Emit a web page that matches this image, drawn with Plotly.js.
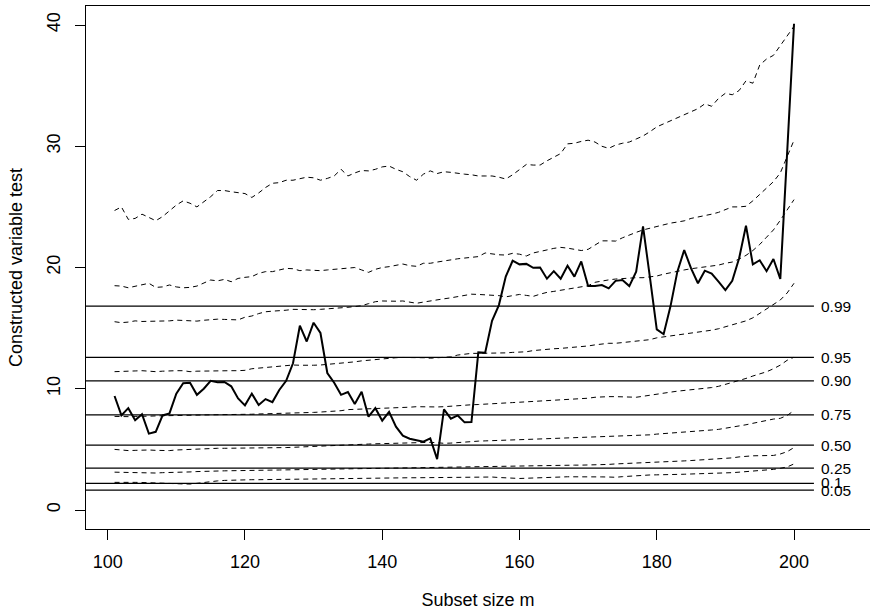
<!DOCTYPE html>
<html>
<head>
<meta charset="utf-8">
<script src="https://cdn.plot.ly/plotly-3.0.1.min.js"></script>
<style>html,body{margin:0;padding:0;background:#fff;}</style>
</head>
<body>
<div id="chart" style="width:870px;height:610px;"></div>
<script>
// Subset size m
const subsetSize = [101,102,103,104,105,106,107,108,109,110,111,112,113,114,115,116,117,118,119,120,
  121,122,123,124,125,126,127,128,129,130,131,132,133,134,135,136,137,138,139,140,
  141,142,143,144,145,146,147,148,149,150,151,152,153,154,155,156,157,158,159,160,
  161,162,163,164,165,166,167,168,169,170,171,172,173,174,175,176,177,178,179,180,
  181,182,183,184,185,186,187,188,189,190,191,192,193,194,195,196,197,198,199,200];

// Observed constructed variable test
const observed = [9.4,7.8,8.4,7.4,7.9,6.3,6.45,7.8,7.97,9.6,10.45,10.5,9.5,10.0,10.66,10.53,10.56,10.2,9.2,8.63,
  9.6,8.66,9.15,8.9,9.9,10.66,12.1,15.2,13.9,15.45,14.6,11.3,10.5,9.5,9.73,8.74,9.76,7.7,8.4,7.37,
  8.1,6.87,6.13,5.88,5.75,5.63,5.9,4.2,8.3,7.53,7.8,7.23,7.26,13.0,12.98,15.6,16.9,19.25,20.56,20.26,
  20.3,19.98,20.0,19.08,19.7,19.08,20.15,19.25,20.5,18.47,18.47,18.56,18.28,18.9,18.97,18.47,19.66,23.4,19.2,14.9,
  14.5,16.8,19.66,21.44,19.93,18.7,19.74,19.5,18.83,18.14,18.9,20.76,23.45,20.26,20.6,19.7,20.7,19.05,29.5,40.1];

// Simulation envelopes (dashed), from highest to lowest
const env99 = [24.7,25.0,23.97,24.05,24.4,24.1,23.86,24.2,24.66,25.15,25.5,25.3,25.0,25.4,25.84,26.35,26.35,26.25,26.2,26.1,
  25.78,26.15,26.6,26.95,27.0,27.2,27.2,27.3,27.45,27.4,27.2,27.35,27.55,28.1,27.55,27.8,28.0,27.97,28.1,28.3,
  28.37,28.1,27.9,27.5,27.2,27.7,27.97,27.75,27.9,27.85,27.75,27.7,27.65,27.55,27.55,27.55,27.45,27.3,27.65,28.04,
  28.5,28.45,28.45,28.8,29.1,29.4,30.2,30.25,30.4,30.5,30.35,30.0,29.83,30.1,30.25,30.35,30.6,30.85,31.2,31.6,
  31.85,32.1,32.3,32.55,32.85,33.1,33.5,33.3,33.95,34.37,34.25,34.6,35.4,35.2,36.7,37.2,37.5,38.3,39.0,39.9];
const env95 = [18.5,18.47,18.33,18.47,18.6,18.7,18.36,18.4,18.56,18.4,18.33,18.36,18.47,18.7,18.97,18.9,19.02,18.83,19.1,19.19,
  19.25,19.52,19.66,19.66,19.8,19.93,19.9,19.74,19.8,19.74,19.74,19.8,19.82,19.9,19.95,20.0,19.8,19.6,19.85,20.0,
  20.07,20.15,20.29,20.15,20.1,20.35,20.35,20.45,20.56,20.62,20.72,20.78,20.85,20.9,21.2,21.12,21.05,21.03,21.17,21.1,
  20.95,21.2,21.35,21.45,21.58,21.66,21.6,21.5,21.4,21.5,21.85,22.2,22.2,22.18,22.45,22.7,22.9,23.1,23.25,23.4,
  23.55,23.66,23.75,23.85,24.05,24.15,24.25,24.4,24.55,24.75,25.0,25.0,25.05,25.5,26.0,26.55,27.08,27.8,29.1,30.5];
const env90 = [15.53,15.45,15.5,15.6,15.55,15.55,15.58,15.6,15.6,15.66,15.62,15.6,15.58,15.65,15.72,15.74,15.72,15.7,15.68,15.9,
  16.0,16.2,16.35,16.4,16.42,16.48,16.55,16.52,16.5,16.52,16.55,16.58,16.64,16.68,16.72,16.78,16.85,17.02,17.18,17.24,
  17.2,17.22,17.24,17.15,17.05,17.15,17.22,17.32,17.42,17.5,17.6,17.7,17.8,17.78,17.75,17.75,17.68,17.58,17.65,17.78,
  17.7,17.62,17.8,17.95,18.03,18.12,18.2,18.3,18.36,18.5,18.78,18.9,18.98,19.05,19.1,19.14,19.16,19.16,19.2,19.3,
  19.45,19.58,19.7,19.8,19.9,19.98,20.05,20.12,20.2,20.35,20.45,20.7,21.0,21.4,21.9,22.5,23.1,23.9,24.7,25.6];
const env75 = [11.41,11.45,11.49,11.47,11.49,11.45,11.41,11.45,11.49,11.49,11.49,11.41,11.45,11.47,11.49,11.49,11.49,11.49,11.49,11.52,
  11.65,11.7,11.72,11.8,11.88,11.92,11.96,11.94,11.92,11.94,11.96,12.0,12.04,12.12,12.18,12.22,12.3,12.36,12.4,12.45,
  12.5,12.56,12.58,12.59,12.58,12.56,12.52,12.55,12.59,12.63,12.78,12.88,12.92,12.92,12.92,12.92,12.92,12.96,13.0,13.02,
  13.05,13.15,13.22,13.27,13.3,13.33,13.37,13.42,13.47,13.53,13.62,13.7,13.75,13.75,13.8,13.85,13.9,13.97,14.05,14.2,
  14.28,14.33,14.4,14.47,14.56,14.67,14.75,14.83,14.95,15.1,15.25,15.42,15.6,15.85,16.2,16.55,16.95,17.32,17.9,18.7];
const env50 = [7.72,7.68,7.7,7.72,7.7,7.74,7.76,7.78,7.8,7.82,7.82,7.83,7.84,7.84,7.85,7.85,7.84,7.85,7.86,7.88,
  7.9,7.92,7.93,7.95,7.97,7.98,8.0,8.02,8.04,8.05,8.08,8.1,8.15,8.19,8.28,8.3,8.3,8.3,8.32,8.35,
  8.38,8.42,8.45,8.48,8.52,8.5,8.48,8.5,8.52,8.57,8.6,8.64,8.68,8.7,8.72,8.75,8.8,8.83,8.86,8.89,
  8.92,8.95,9.0,9.05,9.07,9.1,9.14,9.18,9.2,9.22,9.3,9.35,9.35,9.35,9.33,9.3,9.3,9.38,9.48,9.55,
  9.62,9.72,9.8,9.85,9.9,9.95,10.02,10.1,10.2,10.35,10.5,10.68,10.85,11.05,11.22,11.4,11.65,11.95,12.35,12.6];
const env25 = [5.0,4.95,4.9,4.92,4.95,4.95,4.92,4.88,4.9,4.95,4.98,5.0,5.03,5.06,5.09,5.09,5.09,5.09,5.09,5.09,
  5.09,5.09,5.1,5.12,5.12,5.15,5.17,5.2,5.22,5.25,5.28,5.29,5.3,5.32,5.36,5.4,5.42,5.44,5.46,5.48,
  5.5,5.5,5.52,5.54,5.56,5.57,5.58,5.55,5.5,5.52,5.57,5.62,5.65,5.68,5.7,5.71,5.72,5.74,5.76,5.78,
  5.82,5.84,5.86,5.88,5.89,5.91,5.93,5.95,5.97,6.0,6.02,6.04,6.06,6.08,6.1,6.1,6.12,6.15,6.2,6.26,
  6.3,6.33,6.35,6.38,6.42,6.48,6.55,6.6,6.65,6.73,6.82,6.92,7.03,7.15,7.28,7.42,7.5,7.56,7.8,8.2];
const env10 = [3.12,3.1,3.08,3.06,3.04,3.02,3.05,3.08,3.08,3.08,3.1,3.14,3.17,3.2,3.22,3.22,3.23,3.24,3.24,3.24,
  3.26,3.27,3.28,3.29,3.3,3.31,3.32,3.33,3.35,3.36,3.36,3.36,3.38,3.4,3.42,3.44,3.43,3.44,3.45,3.46,
  3.47,3.47,3.48,3.49,3.5,3.5,3.51,3.52,3.53,3.54,3.56,3.57,3.57,3.57,3.57,3.58,3.59,3.6,3.62,3.64,
  3.66,3.67,3.68,3.69,3.7,3.7,3.7,3.7,3.7,3.7,3.72,3.74,3.76,3.8,3.82,3.85,3.87,3.9,3.92,3.94,
  3.96,3.99,4.03,4.05,4.08,4.11,4.14,4.17,4.2,4.25,4.3,4.38,4.45,4.47,4.48,4.5,4.5,4.62,4.81,5.15];
const env05 = [2.28,2.3,2.29,2.28,2.27,2.26,2.26,2.24,2.2,2.17,2.15,2.14,2.2,2.28,2.35,2.4,2.44,2.47,2.48,2.49,
  2.5,2.5,2.51,2.52,2.52,2.53,2.53,2.54,2.55,2.56,2.56,2.57,2.58,2.58,2.59,2.6,2.61,2.62,2.62,2.63,
  2.64,2.64,2.65,2.66,2.66,2.67,2.68,2.69,2.7,2.71,2.72,2.73,2.74,2.75,2.76,2.72,2.68,2.64,2.6,2.6,
  2.62,2.65,2.68,2.7,2.7,2.72,2.74,2.75,2.75,2.75,2.74,2.73,2.72,2.7,2.75,2.8,2.84,2.88,2.89,2.9,
  2.9,2.91,2.93,2.95,2.97,2.98,3.0,3.02,3.03,3.05,3.08,3.12,3.16,3.2,3.25,3.3,3.35,3.44,3.55,3.8];

// Asymptotic reference quantiles (horizontal lines) and their labels
const quantileLabels = ["0.99","0.95","0.90","0.75","0.50","0.25","0.1","0.05"];
const quantileValues = [16.812,12.592,10.645,7.841,5.348,3.455,2.204,1.635];

const xRange = [96.84, 211.07];
const yRange = [-1.567, 41.57];
const refLineEnd = 202.9;
const labelX = 203.6;

const FONT = "Liberation Sans, Arial, Helvetica, sans-serif";

const envelopes = [env99, env95, env90, env75, env50, env25, env10, env05];
const traces = envelopes.map(function (e) {
  return {x: subsetSize, y: e, type: "scatter", mode: "lines",
    line: {color: "#000", width: 1, dash: "5px,4px"}, hoverinfo: "skip", showlegend: false};
});
traces.push({x: subsetSize, y: observed, type: "scatter", mode: "lines",
  line: {color: "#000", width: 2}, showlegend: false});

const shapes = quantileValues.map(function (q) {
  return {type: "line", xref: "x", yref: "y", x0: xRange[0], x1: refLineEnd, y0: q, y1: q,
    line: {color: "#000", width: 1.2}, layer: "above"};
});
const annotations = quantileValues.map(function (q, i) {
  return {x: labelX, y: q, xref: "x", yref: "y", text: quantileLabels[i], showarrow: false,
    xanchor: "left", yanchor: "middle", yshift: (quantileLabels[i] === "0.1" ? 1 : 0),
    font: {family: FONT, size: 15.5, color: "#000"}};
});

const layout = {
  width: 870, height: 610,
  margin: {l: 86, r: 0, t: 6, b: 81, pad: 0},
  paper_bgcolor: "#fff", plot_bgcolor: "#fff",
  font: {family: FONT, size: 18, color: "#000"},
  showlegend: false,
  xaxis: {
    range: xRange, tickvals: [100,120,140,160,180,200], ticktext: ["100","120","140","160","180","200"],
    ticks: "outside", ticklen: 10, tickwidth: 1, tickcolor: "#000", ticklabelstandoff: 6,
    showline: true, linecolor: "#000", linewidth: 1, mirror: true,
    showgrid: false, zeroline: false,
    tickfont: {family: FONT, size: 18, color: "#000"},
    title: {text: "Subset size m", font: {family: FONT, size: 18, color: "#000"}, standoff: 22}
  },
  yaxis: {
    range: yRange, tickvals: [0,10,20,30,40], ticktext: ["0","10","20","30","40"],
    ticks: "outside", ticklen: 10, tickwidth: 1, tickcolor: "#000", tickangle: -90, ticklabelstandoff: 8,
    showline: true, linecolor: "#000", linewidth: 1, mirror: false,
    showgrid: false, zeroline: false,
    tickfont: {family: FONT, size: 18, color: "#000"},
    title: {text: "Constructed variable test", font: {family: FONT, size: 18, color: "#000"}, standoff: 16}
  },
  shapes: shapes,
  annotations: annotations
};

Plotly.newPlot("chart", traces, layout, {displayModeBar: false, staticPlot: true});
</script>
</body>
</html>
